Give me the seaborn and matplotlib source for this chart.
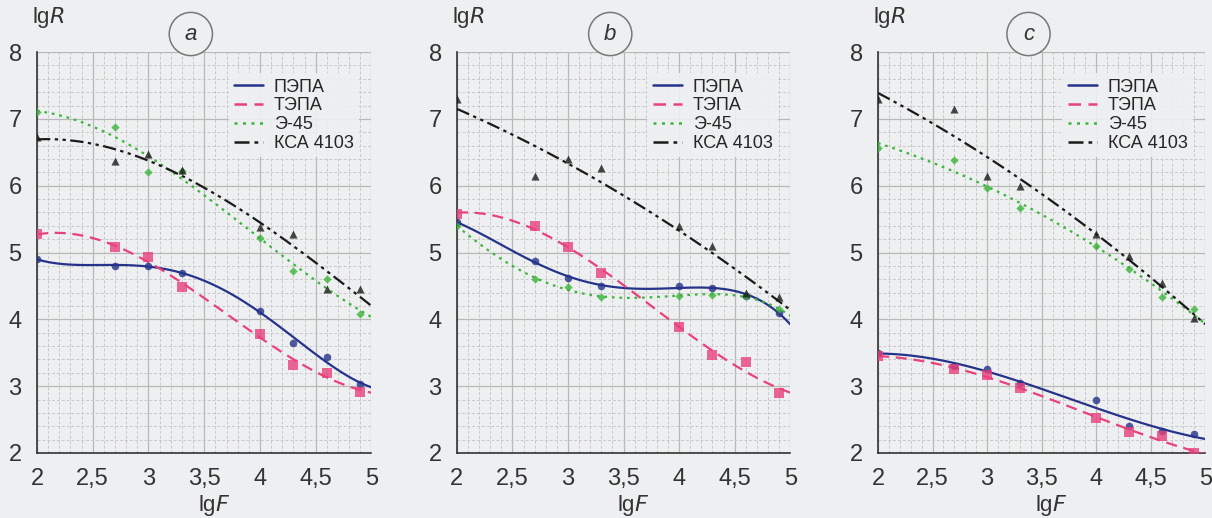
import numpy as np
import pandas as pd
import matplotlib
matplotlib.use('Agg')
import matplotlib.pyplot as plt
import seaborn as sns
from matplotlib.lines import Line2D
from matplotlib.ticker import MultipleLocator, FuncFormatter

# lg of test frequency
lgF = [2.0, 2.7, 3.0, 3.3, 4.0, 4.3, 4.6, 4.9]

# panel a
a_pepa = [4.90, 4.80, 4.80, 4.70, 4.13, 3.65, 3.43, 3.03]
a_tepa = [5.27, 5.08, 4.93, 4.48, 3.78, 3.32, 3.20, 2.92]
a_e45 = [7.10, 6.88, 6.20, 6.22, 5.22, 4.72, 4.60, 4.08]
a_ksa = [6.73, 6.37, 6.47, 6.23, 5.38, 5.28, 4.45, 4.45]

# panel b
b_pepa = [5.45, 4.88, 4.62, 4.50, 4.50, 4.47, 4.35, 4.10]
b_tepa = [5.58, 5.40, 5.08, 4.70, 3.88, 3.47, 3.36, 2.90]
b_e45 = [5.40, 4.60, 4.48, 4.33, 4.35, 4.37, 4.35, 4.15]
b_ksa = [7.30, 6.15, 6.40, 6.27, 5.40, 5.10, 4.40, 4.33]

# panel c
c_pepa = [3.50, 3.30, 3.25, 3.05, 2.80, 2.40, 2.33, 2.28]
c_tepa = [3.45, 3.25, 3.17, 2.97, 2.52, 2.32, 2.25, 2.00]
c_e45 = [6.57, 6.38, 5.97, 5.67, 5.10, 4.75, 4.33, 4.15]
c_ksa = [7.30, 7.15, 6.15, 6.00, 5.27, 4.95, 4.55, 4.02]

series_names = ['ПЭПА', 'ТЭПА', 'Э-45', 'КСА 4103']
panel_labels = ['a', 'b', 'c']
panels = [
    [a_pepa, a_tepa, a_e45, a_ksa],
    [b_pepa, b_tepa, b_e45, b_ksa],
    [c_pepa, c_tepa, c_e45, c_ksa],
]
# polynomial order of each trend line
orders = [
    [4, 3, 3, 3],
    [4, 3, 4, 2],
    [3, 3, 2, 2],
]

colors = ['#26338a', '#e8417c', '#3ab53a', '#1a1a1a']
markers = ['o', 's', 'D', '^']
msizes = [30, 42, 18, 34]
styles = ['-', (0, (5, 3)), (0, (1.2, 2.2)), (0, (6, 2, 1.5, 2, 1.5, 2))]

bg = '#eeeff0'
sns.set_style('white')
plt.rcParams['font.family'] = ['Liberation Sans', 'DejaVu Sans']

fig = plt.figure(figsize=(12.12, 5.18), dpi=100, facecolor=bg)
lefts = [0.0305, 0.377, 0.7244]
widths = [0.276, 0.275, 0.270]

for i, (vals, lab) in enumerate(zip(panels, panel_labels)):
    ax = fig.add_axes([lefts[i], 0.1255, widths[i], 0.774])
    ax.set_facecolor(bg)
    ax.set_xlim(2, 5)
    ax.set_ylim(2, 8)
    for j, y in enumerate(vals):
        df = pd.DataFrame({'lgF': lgF, 'lgR': y})
        sns.regplot(data=df, x='lgF', y='lgR', order=orders[i][j], ci=None,
                    truncate=False, ax=ax, marker=markers[j],
                    scatter_kws=dict(s=msizes[j], color=colors[j],
                                     zorder=4, linewidths=0),
                    line_kws=dict(color=colors[j], linestyle=styles[j],
                                  lw=1.6, zorder=3))
    ax.set_xlim(2, 5)
    ax.set_ylim(2, 8)
    ax.xaxis.set_major_locator(MultipleLocator(0.5))
    ax.xaxis.set_minor_locator(MultipleLocator(0.1))
    ax.yaxis.set_major_locator(MultipleLocator(1))
    ax.yaxis.set_minor_locator(MultipleLocator(0.2))
    ax.xaxis.set_major_formatter(FuncFormatter(
        lambda v, p: ('%g' % v).replace('.', ',')))
    ax.grid(True, which='major', color='#b8b8b8', lw=0.9, ls='-')
    ax.grid(True, which='minor', color='#c8c8c8', lw=0.7, ls=(0, (3, 2)))
    ax.set_axisbelow(True)
    for s in ['top', 'right']:
        ax.spines[s].set_visible(False)
    for s in ['left', 'bottom']:
        ax.spines[s].set_color('#333333')
        ax.spines[s].set_linewidth(1.2)
    ax.tick_params(which='major', direction='out', length=7, width=1.1,
                   color='#333333', labelsize=17, labelcolor='#333333', pad=4)
    ax.tick_params(which='minor', direction='out', length=5, width=1.0,
                   color='#333333')
    ax.set_xlabel('')
    ax.set_ylabel('')
    ax.text(0.035, 1.085, 'lg$\\it{R}$', transform=ax.transAxes, fontsize=16,
            ha='center', va='center', color='#333333')
    ax.text(0.53, -0.13, 'lg$\\it{F}$', transform=ax.transAxes, fontsize=16,
            ha='center', va='center', color='#333333')
    ax.text(0.46, 1.045, lab, transform=ax.transAxes, fontsize=16,
            style='italic', ha='center', va='center', color='#333333',
            bbox=dict(boxstyle='circle,pad=0.5', fc=bg, ec='#777777', lw=1.1),
            clip_on=False)
    handles = [Line2D([0], [0], color=c, ls=ls, lw=1.8)
               for c, ls in zip(colors, styles)]
    leg = ax.legend(handles, series_names, loc='upper right',
                    bbox_to_anchor=(0.99, 0.97), frameon=True, fontsize=13,
                    handlelength=1.6, labelspacing=0.1, borderpad=0.3,
                    handletextpad=0.6)
    leg.get_frame().set_facecolor(bg)
    leg.get_frame().set_edgecolor('none')
    leg.get_frame().set_alpha(0.9)

fig.savefig('out.png', dpi=100, facecolor=bg)
